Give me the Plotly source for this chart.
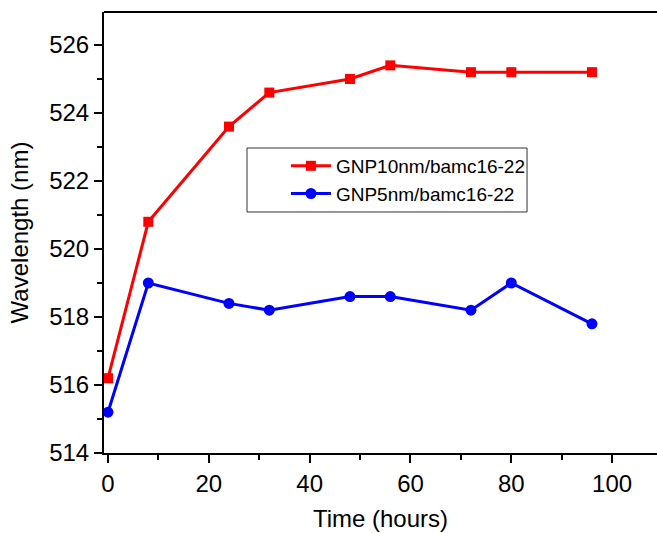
import plotly.graph_objects as go

time_h = [0, 8, 24, 32, 48, 56, 72, 80, 96]
gnp10 = [516.2, 520.8, 523.6, 524.6, 525.0, 525.4, 525.2, 525.2, 525.2]
gnp5 = [515.2, 519.0, 518.4, 518.2, 518.6, 518.6, 518.2, 519.0, 517.8]
names = ["GNP10nm/bamc16-22", "GNP5nm/bamc16-22"]

fig = go.Figure()
fig.add_trace(go.Scatter(x=time_h, y=gnp10, name=names[0], mode="lines+markers",
                         line=dict(color="#ff0000", width=3),
                         marker=dict(symbol="square", size=10, color="#ff0000")))
fig.add_trace(go.Scatter(x=time_h, y=gnp5, name=names[1], mode="lines+markers",
                         line=dict(color="#0000ff", width=3),
                         marker=dict(symbol="circle", size=11, color="#0000ff")))

font = dict(family="Liberation Sans, Arial, sans-serif", color="black")
fig.update_layout(
    width=657, height=533,
    margin=dict(l=104, r=0, t=12, b=80, autoexpand=False),
    paper_bgcolor="white", plot_bgcolor="white",
    font=dict(**font, size=24),
    showlegend=True,
    legend=dict(x=0.329, y=0.694, xanchor="left", yanchor="top",
                borderwidth=0, bgcolor="rgba(0,0,0,0)",
                font=dict(**font, size=19), tracegroupgap=0,
                itemwidth=40),
    xaxis=dict(range=[-0.79, 108.9], showgrid=False, zeroline=False, automargin=False,
               showline=True, linecolor="black", linewidth=2,
               ticks="outside", ticklen=8, tickwidth=2, tickcolor="black",
               tick0=0, dtick=20,
               minor=dict(ticks="outside", ticklen=5, tickwidth=2, tickcolor="black", dtick=10),
               title=dict(text="Time (hours)", font=dict(**font, size=24), standoff=14),
               tickfont=dict(**font, size=24)),
    yaxis=dict(range=[514, 526.97], showgrid=False, zeroline=False, automargin=False,
               showline=True, linecolor="black", linewidth=2,
               ticks="outside", ticklen=8, tickwidth=2, tickcolor="black",
               tick0=514, dtick=2,
               minor=dict(ticks="outside", ticklen=5, tickwidth=2, tickcolor="black", dtick=1),
               title=dict(text="Wavelength (nm)", font=dict(**font, size=24), standoff=14),
               tickfont=dict(**font, size=24)),
    shapes=[dict(type="line", xref="paper", yref="paper", x0=0, x1=1, y0=1, y1=1,
                 line=dict(color="black", width=2)),
            dict(type="rect", xref="paper", yref="paper", x0=0.2586, x1=0.765,
                 y0=0.5465, y1=0.6916, line=dict(color="#333333", width=1),
                 fillcolor="rgba(0,0,0,0)", layer="below")],
)
fig.write_html("out.html", config={"displayModeBar": False},
               post_script="document.body.style.margin='0px';document.body.style.overflow='hidden';")
